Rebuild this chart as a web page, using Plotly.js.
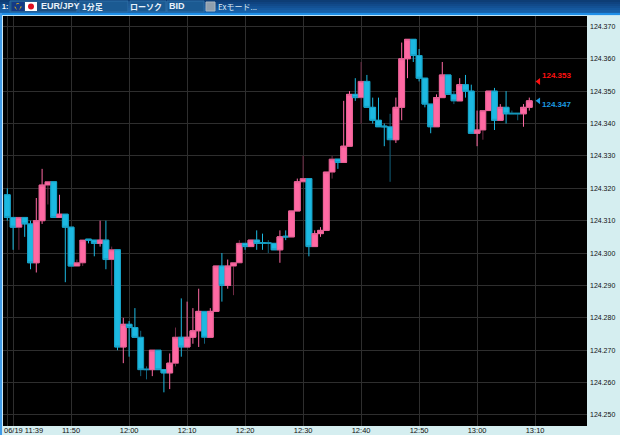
<!DOCTYPE html>
<html><head><meta charset="utf-8">
<script src="https://cdn.plot.ly/plotly-3.0.1.min.js"></script>
<style>html,body{margin:0;padding:0;background:#d5eef0;overflow:hidden}#c{width:620px;height:435px}</style>
</head><body><div id="c"></div>
<script>
const opens = [
124.318,124.311,124.308,124.311,124.309,124.297,124.310,124.321,124.322,124.311,
124.312,124.308,124.296,124.297,124.3043,124.304,124.303,124.304,124.298,124.301,
124.271,124.278,124.277,124.274,124.2642,124.264,124.270,124.264,124.263,124.266,
124.274,124.271,124.274,124.276,124.282,124.274,124.282,124.296,124.290,124.296,
124.297,124.303,124.302,124.304,124.3032,124.3032,124.303,124.301,124.3052,124.305,
124.313,124.322,124.323,124.302,124.306,124.307,124.325,124.329,124.328,124.333,
124.349,124.348,124.353,124.345,124.341,124.3392,124.339,124.335,124.345,124.360,
124.366,124.361,124.354,124.346,124.339,124.348,124.355,124.349,124.347,124.352,
124.350,124.337,124.338,124.344,124.350,124.341,124.345,124.3432,124.3432,124.343,
124.345];
const highs = [
124.320,124.311,124.311,124.311,124.310,124.317,124.326,124.322,124.322,124.318,
124.312,124.308,124.298,124.304,124.3043,124.304,124.310,124.310,124.302,124.301,
124.280,124.279,124.283,124.276,124.265,124.270,124.270,124.264,124.269,124.277,
124.286,124.285,124.283,124.289,124.282,124.283,124.296,124.300,124.298,124.297,
124.304,124.303,124.304,124.307,124.306,124.304,124.303,124.307,124.307,124.313,
124.323,124.330,124.323,124.307,124.308,124.325,124.330,124.329,124.347,124.350,
124.354,124.359,124.355,124.348,124.348,124.340,124.343,124.348,124.365,124.366,
124.366,124.363,124.354,124.346,124.349,124.359,124.355,124.350,124.354,124.355,
124.352,124.344,124.344,124.350,124.351,124.346,124.350,124.344,124.3432,124.346,
124.348];
const lows = [
124.310,124.301,124.301,124.305,124.295,124.294,124.309,124.315,124.311,124.311,
124.291,124.296,124.296,124.296,124.303,124.299,124.302,124.295,124.290,124.270,
124.266,124.268,124.274,124.262,124.261,124.262,124.264,124.257,124.258,124.265,
124.268,124.271,124.272,124.271,124.272,124.274,124.282,124.285,124.289,124.287,
124.297,124.301,124.302,124.301,124.301,124.300,124.301,124.297,124.304,124.305,
124.313,124.322,124.299,124.302,124.305,124.307,124.323,124.326,124.328,124.333,
124.347,124.340,124.345,124.340,124.339,124.333,124.322,124.334,124.341,124.354,
124.359,124.353,124.345,124.337,124.339,124.348,124.349,124.346,124.347,124.348,
124.337,124.333,124.335,124.344,124.338,124.341,124.340,124.343,124.341,124.339,
124.344];
const closes = [
124.311,124.308,124.311,124.309,124.297,124.310,124.321,124.322,124.311,124.312,
124.308,124.296,124.297,124.304,124.304,124.303,124.304,124.298,124.301,124.271,
124.278,124.277,124.274,124.264,124.264,124.270,124.264,124.263,124.266,124.274,
124.271,124.274,124.276,124.282,124.274,124.282,124.296,124.290,124.296,124.297,
124.303,124.302,124.304,124.303,124.303,124.303,124.301,124.305,124.305,124.313,
124.322,124.323,124.302,124.306,124.307,124.325,124.329,124.328,124.333,124.349,
124.348,124.353,124.345,124.341,124.339,124.339,124.335,124.345,124.360,124.366,
124.361,124.354,124.346,124.339,124.348,124.355,124.349,124.347,124.352,124.350,
124.337,124.338,124.344,124.350,124.341,124.345,124.343,124.343,124.343,124.345,
124.347];
const dimWicks = [2,7,12,13,18,23,24,29,34,39,40,45,51,56,61,66,77,82,87,88];

const firstMinute = 11*60+39;
const stamp = m => {const h=Math.floor(m/60), mm=Math.floor(m%60), s=Math.round((m%1)*60);
  const p=v=>String(v).padStart(2,'0'); return `2014-06-19 ${p(h)}:${p(mm)}:${p(s)}`;};
const times = opens.map((_,i)=>stamp(firstMinute+i));

const xTickMinutes = [699,700,710,720,730,740,750,760,770,780,790];
const xTickLabels = ['','','11:50','12:00','12:10','12:20','12:30','12:40','12:50','13:00','13:10'];
const yTicks = [124.25,124.26,124.27,124.28,124.29,124.30,124.31,124.32,124.33,124.34,124.35,124.36,124.37];
const bidLabel = 124.347, askLabel = 124.353;

const PINK='#ff69a3', BLUE='#1cb9e1', DIMP='#6f2b45', DIMB='#10607a';
const L=3,R=33,T=16,B=9,W=620,H=435;
const px = x => (x-L)/(W-L-R);
const py = y => 1-(y-T)/(H-T-B);

function pick(f){const id=[];opens.forEach((_,i)=>{if(f(i))id.push(i)});return id;}
function wick(ids,up,down){return {type:'candlestick',x:ids.map(i=>times[i]),open:ids.map(i=>opens[i]),high:ids.map(i=>highs[i]),
  low:ids.map(i=>lows[i]),close:ids.map(i=>closes[i]),width:1000,whiskerwidth:0,
  increasing:{line:{color:up,width:1},fillcolor:up},decreasing:{line:{color:down,width:1},fillcolor:down},showlegend:false,hoverinfo:'skip'};}
const bright=wick(pick(i=>!dimWicks.includes(i)),PINK,BLUE);
const dim=wick(pick(i=>dimWicks.includes(i)),DIMP,DIMB);
const bodies={type:'candlestick',x:times,open:opens,close:closes,
  high:opens.map((o,i)=>Math.max(o,closes[i])),low:opens.map((o,i)=>Math.min(o,closes[i])),
  width:58000,whiskerwidth:0,
  increasing:{line:{color:'#e05f90',width:0.7},fillcolor:PINK},
  decreasing:{line:{color:'#1599bd',width:0.7},fillcolor:BLUE},showlegend:false,hoverinfo:'skip'};
const markers={type:'scatter',mode:'markers',x:[stamp(firstMinute+91.6),stamp(firstMinute+91.6)],y:[askLabel,bidLabel],
  marker:{symbol:'triangle-left',size:6,color:['#ff1010','#1c9be0']},showlegend:false,hoverinfo:'skip'};

const shapes=[];
const rect=(x0,y0,x1,y1,fill,line)=>shapes.push({type:'rect',xref:'paper',yref:'paper',x0:px(x0),x1:px(x1),y0:py(y0),y1:py(y1),
  fillcolor:fill,line:{width:line?1:0,color:line||fill},layer:'above'});
const band=['#0d3d75','#0f4380','#114a8a','#135194','#15589e','#175fa6','#1965ad'];
band.forEach((c,i)=>rect(0,i*2,W,i*2+2,c));
rect(0,13,W,15,'#1e8fe8');
rect(0,15,W,16,'#bfe4f4');
rect(0,13,2,H,'#3f9be8');
rect(2,16,3,H,'#cfe9f4');
rect(10,1,77,12,'#1b4f82','#2f6ea6');
rect(79,1,128,12,'#1b5a92','#2f6ea6');
rect(130,1,166,12,'#1b5a92','#2f6ea6');
rect(167,1,204,12,'#1b5a92','#2f6ea6');
rect(12,2,24,11,'#143a86');
rect(25,2,37,11,'#ffffff');
shapes.push({type:'circle',xref:'paper',yref:'paper',x0:px(15),x1:px(21),y0:py(3.5),y1:py(9.5),fillcolor:'rgba(0,0,0,0)',line:{color:'#d8b020',width:1,dash:'dot'},layer:'above'});
shapes.push({type:'circle',xref:'paper',yref:'paper',x0:px(28),x1:px(34),y0:py(3.5),y1:py(9.5),fillcolor:'#e01020',line:{width:0},layer:'above'});
rect(206,2,215,11,'#8f9fae','#aab6c0');

const label=(x,y,text,color,size,bold,family)=>({xref:'paper',yref:'paper',x:px(x),y:py(y),text:bold?`<b>${text}</b>`:text,showarrow:false,
  xanchor:'left',yanchor:'middle',font:{color,size,family:family||'"Noto Sans CJK JP","Liberation Sans",sans-serif'},borderpad:0,
  align:'left'});
const annotations=[
 label(1,6.5,'1:','#ffffff',7,true,'"Liberation Sans"'),
 label(40,6.5,'EUR/JPY','#e8f2fa',9,true,'"Liberation Sans"'),
 label(81,6.5,'1分足','#e8f2fa',8,true),
 label(129,6.5,'ローソク','#e8f2fa',8,true),
 label(168,6.5,'BID','#e8f2fa',9,true,'"Liberation Sans"'),
 label(217,6.5,'Exモード...','#dce9f4',8,false),
 label(3,430,'06/19 11:39','#111111',7.5,false,'"Liberation Sans"'),
 label(541,75.5,String(askLabel.toFixed(3)),'#ff1010',8,true,'"Liberation Sans"'),
 label(541,104.5,String(bidLabel.toFixed(3)),'#1c9be0',8,true,'"Liberation Sans"')
];

Plotly.newPlot('c',[dim,bright,bodies,markers],{
  width:W,height:H,margin:{l:L,r:R,t:T,b:B,pad:0},boxgap:0,boxgroupgap:0,boxmode:'overlay',
  paper_bgcolor:'#d5eef0',plot_bgcolor:'#000000',showlegend:false,
  xaxis:{type:'date',range:['2014-06-19 11:38:15.5','2014-06-19 13:18:57'],rangeslider:{visible:false},
    tickmode:'array',tickvals:xTickMinutes.map(stamp),ticktext:xTickLabels,
    gridcolor:'#2e2e2e',gridwidth:1,showline:false,zeroline:false,ticks:'',automargin:false,ticklabelstandoff:-2,
    tickfont:{family:'"Liberation Sans"',size:7.5,color:'#111111'},tickangle:0},
  yaxis:{side:'right',range:[124.2466,124.3732],tickmode:'array',tickvals:yTicks,ticktext:yTicks.map(v=>v.toFixed(3)),
    gridcolor:'#2e2e2e',gridwidth:1,showline:false,zeroline:false,ticks:'',automargin:false,ticklabelstandoff:2,
    tickfont:{family:'"Liberation Sans"',size:7,color:'#111111'}},
  shapes,annotations,hovermode:false
},{displayModeBar:false,staticPlot:true});
</script></body></html>
